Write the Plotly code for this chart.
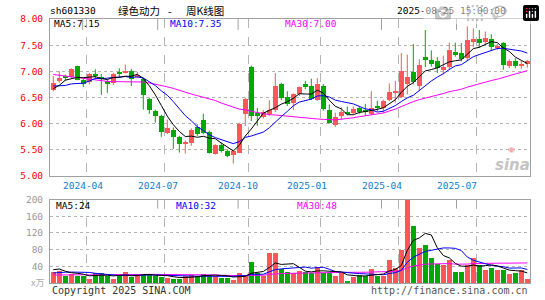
import plotly.graph_objects as go
import pandas as pd

# ---------------- data (weekly, 2024-02-19 .. 2025-08-25) ----------------
open_ = [6.65, 6.81, 6.91, 6.89, 7.10, 6.84, 6.79, 6.95, 6.88, 6.81,
         6.78, 6.98, 6.98, 7.00, 6.90, 6.86, 6.48, 6.24, 6.15, 5.83,
         5.88, 5.74, 5.62, 5.64, 5.94, 6.08, 5.85, 5.43, 5.60, 5.48,
         5.41, 5.45, 6.18, 7.08, 6.21, 6.12, 6.19, 6.27, 6.75, 6.51,
         6.40, 6.56, 6.75, 6.73, 6.46, 6.73, 6.27, 5.98, 6.15, 6.21,
         6.21, 6.31, 6.27, 6.19, 6.33, 6.31, 6.46, 6.60, 6.51, 6.75,
         6.98, 6.73, 7.27, 7.22, 7.20, 7.03, 7.08, 7.37, 7.35, 7.25,
         7.56, 7.62, 7.56, 7.62, 7.44, 7.54, 7.11, 7.20, 7.11, 7.14]
high = [6.91, 7.00, 6.94, 7.06, 7.11, 6.86, 6.97, 7.04, 6.95, 6.84,
        6.97, 7.06, 7.13, 7.05, 6.99, 6.88, 6.50, 6.27, 6.17, 6.08,
        5.93, 5.77, 5.68, 5.91, 5.99, 6.19, 5.87, 5.61, 5.64, 5.51,
        5.50, 6.02, 6.50, 7.11, 6.30, 6.26, 6.45, 6.97, 6.78, 6.62,
        6.58, 6.71, 6.82, 6.86, 6.87, 6.76, 6.37, 6.21, 6.31, 6.33,
        6.33, 6.34, 6.38, 6.62, 6.44, 6.46, 6.77, 6.82, 7.35, 7.32,
        7.52, 7.23, 7.79, 7.40, 7.27, 7.30, 7.55, 7.55, 7.54, 7.86,
        7.82, 7.79, 7.76, 7.71, 7.52, 7.56, 7.23, 7.25, 7.20, 7.22]
low = [6.62, 6.78, 6.82, 6.87, 6.83, 6.70, 6.75, 6.84, 6.55, 6.59,
       6.74, 6.89, 6.96, 6.72, 6.87, 6.27, 6.19, 6.02, 5.75, 5.80,
       5.52, 5.45, 5.43, 5.58, 5.77, 5.80, 5.43, 5.41, 5.45, 5.36,
       5.24, 5.44, 5.96, 6.05, 5.96, 6.10, 6.15, 6.22, 6.45, 6.34,
       6.26, 6.53, 6.66, 6.45, 6.44, 6.25, 6.00, 5.94, 6.07, 6.17,
       6.18, 6.19, 6.15, 6.17, 6.23, 6.21, 6.43, 6.40, 6.49, 6.56,
       6.75, 6.64, 7.08, 7.09, 6.97, 6.94, 7.03, 7.28, 7.19, 7.20,
       7.46, 7.45, 7.49, 7.39, 7.41, 7.03, 7.06, 7.06, 7.05, 7.07]
close = [6.78, 6.87, 6.89, 7.05, 6.84, 6.75, 6.95, 6.91, 6.86, 6.75,
         6.95, 6.96, 7.01, 6.86, 6.94, 6.55, 6.26, 6.15, 5.85, 5.91,
         5.74, 5.62, 5.66, 5.89, 5.80, 5.83, 5.45, 5.60, 5.48, 5.39,
         5.48, 6.00, 6.48, 6.15, 6.15, 6.23, 6.27, 6.73, 6.49, 6.38,
         6.56, 6.70, 6.71, 6.48, 6.75, 6.29, 6.02, 6.13, 6.23, 6.19,
         6.29, 6.23, 6.23, 6.31, 6.31, 6.44, 6.60, 6.63, 7.01, 6.89,
         6.79, 7.13, 7.22, 7.14, 7.06, 7.08, 7.41, 7.32, 7.23, 7.59,
         7.62, 7.54, 7.63, 7.46, 7.49, 7.12, 7.20, 7.10, 7.14, 7.19]
volume = [28, 30, 18, 22, 18, 18, 10, 24, 24, 17,
          10, 17, 27, 16, 18, 22, 20, 18, 16, 12,
          10, 10, 18, 19, 18, 22, 18, 18, 14, 14,
          8, 25, 19, 51, 25, 18, 73, 73, 34, 28,
          24, 29, 27, 25, 40, 25, 25, 17, 25, 6,
          16, 20, 18, 34, 18, 18, 56, 37, 80, 200,
          138, 85, 92, 61, 47, 45, 56, 27, 27, 45,
          61, 43, 32, 37, 32, 32, 22, 25, 32, 10]
# weeks before the visible window, only used to seed the moving averages
prior_close = [7.30, 7.35, 7.40, 7.38, 7.36, 7.32, 7.30, 7.31,
               7.10, 7.05, 7.00, 6.95, 6.90, 6.88, 6.85, 6.80, 6.75, 6.70, 6.68, 6.62,
               6.80, 6.85, 6.75, 6.75, 6.70,
               6.55, 6.40, 6.92, 6.70]
prior_volume = [15, 18, 16, 14, 17, 19, 15, 16, 18, 17, 15, 16, 14, 18, 17, 16, 19, 15, 17, 18,
                14, 16, 18, 15, 17,
                22, 45, 40, 25]

label_text = ["2024-04", "2024-07", "2024-10", "2025-01", "2025-04", "2025-07"]
label_pos = [4.9, 17.4, 30.8, 42.3, 54.7, 67.2]
month_start = [5.5, 18.5, 32.5, 44.5, 57.5, 70.5]
price_ticks = [5.0, 5.5, 6.0, 6.5, 7.0, 7.5, 8.0]
vol_ticks = [40, 80, 120, 160, 200]

UP = "#ff5757"
DOWN = "#00a800"
MA_COLORS = {5: "#000000", 10: "#0000ff", 30: "#ff00ff"}
MONO = "DejaVu Sans Mono"
CJK = "Noto Sans CJK SC"

n = len(close)
idx = list(range(n))
is_up = [c >= o for o, c in zip(open_, close)]
colors = [UP if u else DOWN for u in is_up]

full_c = pd.Series(prior_close + close)
full_v = pd.Series(prior_volume + volume)
ma_p = {k: full_c.rolling(k).mean().iloc[-n:].tolist() for k in (5, 10, 30)}
ma_v = {k: full_v.rolling(k).mean().iloc[-n:].tolist() for k in (5, 10, 30)}

fig = go.Figure()

# wicks
for col, flag in ((UP, True), (DOWN, False)):
    xs, ys = [], []
    for i in idx:
        if is_up[i] == flag:
            xs += [i, i, None]
            ys += [low[i], high[i], None]
    fig.add_trace(go.Scatter(x=xs, y=ys, mode="lines", line=dict(color=col, width=1),
                             hoverinfo="skip", xaxis="x", yaxis="y"))

# bodies
fig.add_trace(go.Bar(x=idx, y=[max(abs(c - o), 0.012) for o, c in zip(open_, close)],
                     base=[min(o, c) for o, c in zip(open_, close)],
                     width=0.82, marker=dict(color=colors, line=dict(width=0)),
                     xaxis="x", yaxis="y"))

for k in (30, 10, 5):
    fig.add_trace(go.Scatter(x=idx, y=ma_p[k], mode="lines",
                             line=dict(color=MA_COLORS[k], width=1), xaxis="x", yaxis="y"))

# volume
fig.add_trace(go.Bar(x=idx, y=volume, width=0.82, marker=dict(color=colors, line=dict(width=0)),
                     xaxis="x2", yaxis="y2"))
for k in (30, 10, 5):
    fig.add_trace(go.Scatter(x=idx, y=ma_v[k], mode="lines",
                             line=dict(color=MA_COLORS[k], width=1), xaxis="x2", yaxis="y2"))

L, R, T, B, W, H = 50, 15, 19, 15, 545, 300
PW, PH = W - L - R, H - T - B


def px(xp):
    return (xp - L) / PW


def py(yp):
    return (H - B - yp) / PH


main_bottom = py(177.3)
vol_top = py(201)

axis_common = dict(showline=True, linecolor="#a0a0a0", linewidth=1, mirror=True,
                   zeroline=False, fixedrange=True)
fig.update_layout(
    width=W, height=H, margin=dict(l=L, r=R, t=T, b=B),
    paper_bgcolor="white", plot_bgcolor="white", showlegend=False,
    barmode="overlay", bargap=0,
    xaxis=dict(domain=[0, 1], range=[-0.55, 79.45], tickvals=month_start,
               showticklabels=False, ticks="", showgrid=True, gridcolor="#b4b4b4",
               griddash="dash", gridwidth=1, anchor="y", **axis_common),
    yaxis=dict(domain=[main_bottom, 1], range=[5.0, 8.0], tickvals=price_ticks,
               ticktext=["%.2f" % v for v in price_ticks], ticks="",
               tickfont=dict(family=MONO, size=9.5, color="#ff0000"),
               ticklabelstandoff=4,
               showgrid=True, gridcolor="#b4b4b4", griddash="dot", anchor="x", **axis_common),
    xaxis2=dict(domain=[0, 1], range=[-0.55, 79.45], tickvals=month_start, matches="x",
                showticklabels=False, ticks="", showgrid=True, gridcolor="#b4b4b4",
                griddash="dash", anchor="y2", **axis_common),
    yaxis2=dict(domain=[0, vol_top], range=[0, 200], tickvals=vol_ticks, ticks="",
                tickfont=dict(family=MONO, size=9.5, color="#999999"),
                ticklabelstandoff=4,
                showgrid=True, gridcolor="#b4b4b4", griddash="dot", anchor="x2", **axis_common),
)

# short ticks at the top of each panel at label positions
shapes = []
for p in label_pos:
    shapes.append(dict(type="line", xref="x", yref="paper", x0=p, x1=p,
                       y0=1, y1=py(30), line=dict(color="#a0a0a0", width=1)))
    shapes.append(dict(type="line", xref="x", yref="paper", x0=p, x1=p,
                       y0=vol_top, y1=py(210), line=dict(color="#a0a0a0", width=1)))
fig.update_layout(shapes=shapes)

ann = []


def text(t, x, y, color="#000000", size=9.5, family=MONO, xanchor="left", xref="paper", **kw):
    ann.append(dict(text=t, x=x if xref == "x" else px(x), y=py(y), xref=xref, yref="paper",
                    showarrow=False, xanchor=xanchor, yanchor="middle",
                    font=dict(family=family, size=size, color=color), **kw))


text("sh601330", 47.5, 10.5)
text("绿色动力", 115.5, 10.5, size=10.5, family=CJK)
text("-", 170, 10.5, size=10.5, family=CJK, xanchor="center")
text("周K线图", 183.5, 10.5, size=10.5, family=CJK)
text("2025-08-25 15:00:00", 508, 10.5, xanchor="right")
text("MA5:7.15", 51.5, 24)
text("MA10:7.35", 167.5, 24, color="#0000ff")
text("MA30:7.00", 282.5, 24, color="#ff00ff")
for t, p in zip(label_text, label_pos):
    text(t, p, 186.7, color="#0a80d0", xanchor="center", xref="x")
text("MA5:24", 53.5, 206.5)
text("MA10:32", 173.5, 206.5, color="#0000ff")
text("MA30:48", 294.5, 206.5, color="#ff00ff")
text("Copyright 2025 SINA.COM", 49.5, 292.5, color="#333333", size=10)
text("http://finance.sina.com.cn", 529.5, 292.5, color="#555555", size=10, xanchor="right")
text("x万", 37, 284, color="#aaaaaa", size=9, family=CJK, xanchor="center")
text("◉", 511, 150, color="#f2a8a8", size=8, family="DejaVu Sans", xanchor="center")
text("<i><b>sina</b></i>", 512, 166, color="#c4c4c4", size=15, family="DejaVu Sans",
     xanchor="center")
fig.update_layout(annotations=ann)

fig.write_html("out.html",
               post_script="document.body.style.margin='0';document.body.style.overflow='hidden';")
